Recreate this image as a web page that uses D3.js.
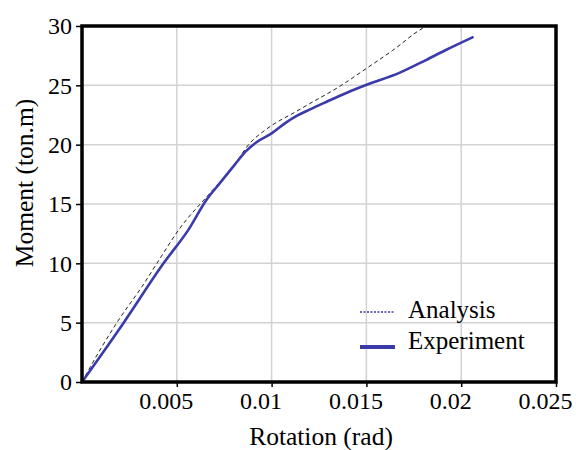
<!DOCTYPE html>
<html>
<head>
<meta charset="utf-8">
<script src="https://cdn.jsdelivr.net/npm/d3@7"></script>
<style>
html,body{margin:0;padding:0;background:#fff;}
svg{display:block;}
text{font-family:"Liberation Serif","Times New Roman",serif;fill:#000;}
</style>
</head>
<body>
<svg id="chart" width="576" height="450"></svg>
<script>
// ---- data ----
const xTicks = [0.005, 0.01, 0.015, 0.02, 0.025];
const xTickLabels = ["0.005", "0.01", "0.015", "0.02", "0.025"];
const yTicks = [0, 5, 10, 15, 20, 25, 30];
const yTickLabels = ["0", "5", "10", "15", "20", "25", "30"];

const expRot = [0, 0.0022, 0.0043, 0.0056, 0.00656, 0.00726, 0.00805, 0.00865, 0.0092, 0.0100, 0.0107, 0.0113, 0.0120, 0.01288, 0.0140, 0.01498, 0.01674, 0.01814, 0.01919, 0.0206];
const expM   = [0, 5.0, 10.0, 12.8, 15.34, 16.74, 18.3, 19.45, 20.2, 20.95, 21.8, 22.4, 22.95, 23.6, 24.4, 25.03, 26.05, 27.13, 27.98, 29.05];

const anaRot = [0, 0.00105, 0.00193, 0.00316, 0.00395, 0.00516, 0.00674, 0.00797, 0.00884, 0.00972, 0.0113, 0.012, 0.01358, 0.01498, 0.01639, 0.01796, 0.0182];
const anaM   = [0, 2.97, 5.22, 8.03, 10.0, 12.95, 15.9, 18.14, 20.1, 21.3, 22.8, 23.45, 24.9, 26.4, 27.95, 29.8, 30.0];

const seriesNames = ["Analysis", "Experiment"];

// ---- layout ----
const svg = d3.select("#chart");
const L = 82, R = 556, T = 26, B = 382;
const x = d3.scaleLinear().domain([0, 0.025]).range([L, R]);
const y = d3.scaleLinear().domain([0, 30]).range([B, T]);
const blue = "#3a3aaa";

// grid
svg.append("g").selectAll("line").data(xTicks.slice(0, -1)).join("line")
  .attr("x1", d => x(d)).attr("x2", d => x(d)).attr("y1", T).attr("y2", B)
  .attr("stroke", "#d2d2d2").attr("stroke-width", 1.5);
svg.append("g").selectAll("line").data(yTicks.slice(1, -1)).join("line")
  .attr("x1", L).attr("x2", R).attr("y1", d => y(d)).attr("y2", d => y(d))
  .attr("stroke", "#d2d2d2").attr("stroke-width", 1.5);

// axes (ticks + labels)
const xAxis = d3.axisBottom(x).tickValues(xTicks).tickSize(5).tickPadding(5)
  .tickFormat((d, i) => xTickLabels[i]);
const gx = svg.append("g").attr("transform", `translate(0,${B})`).call(xAxis);
gx.select(".domain").remove();
gx.selectAll("line").attr("stroke", "#000").attr("stroke-width", 1.5);
gx.selectAll("text").attr("font-size", 24).attr("font-family", "Liberation Serif")
  .attr("fill", "#000").attr("dx", -11);

const yAxis = d3.axisLeft(y).tickValues(yTicks).tickSize(6).tickPadding(4)
  .tickFormat((d, i) => yTickLabels[i]);
const gy = svg.append("g").attr("transform", `translate(${L},0)`).call(yAxis);
gy.select(".domain").remove();
gy.selectAll("line").attr("stroke", "#000").attr("stroke-width", 1.5);
gy.selectAll("text").attr("font-size", 24).attr("font-family", "Liberation Serif").attr("fill", "#000");

// lines
const line = d3.line().x(d => x(d[0])).y(d => y(d[1])).curve(d3.curveMonotoneX);
const expData = expRot.map((r, i) => [r, expM[i]]);
const anaData = anaRot.map((r, i) => [r, anaM[i]]);

svg.append("path").datum(anaData).attr("d", line)
  .attr("fill", "none").attr("stroke", "#222").attr("stroke-width", 1)
  .attr("stroke-dasharray", "4,3");
svg.append("path").datum(expData).attr("d", line)
  .attr("fill", "none").attr("stroke", blue).attr("stroke-width", 2.6)
  .attr("stroke-linejoin", "round").attr("stroke-linecap", "round");

// frame
svg.append("rect").attr("x", L).attr("y", T).attr("width", R - L).attr("height", B - T)
  .attr("fill", "none").attr("stroke", "#000").attr("stroke-width", 3.5);

// axis titles
svg.append("text").attr("x", 321).attr("y", 445).attr("text-anchor", "middle")
  .attr("font-size", 25.5).text("Rotation (rad)");
svg.append("text").attr("transform", "translate(33,183) rotate(-90)").attr("text-anchor", "middle")
  .attr("font-size", 25.5).text("Moment (ton.m)");

// legend
const lg = svg.append("g");
lg.append("line").attr("x1", 360).attr("x2", 395).attr("y1", 312).attr("y2", 312)
  .attr("stroke", blue).attr("stroke-width", 1.6).attr("stroke-dasharray", "2,1.5");
lg.append("text").attr("x", 408).attr("y", 318).attr("font-size", 25).text(seriesNames[0]);
lg.append("line").attr("x1", 360).attr("x2", 395).attr("y1", 347).attr("y2", 347)
  .attr("stroke", blue).attr("stroke-width", 4);
lg.append("text").attr("x", 408).attr("y", 349).attr("font-size", 25).text(seriesNames[1]);
</script>
</body>
</html>
